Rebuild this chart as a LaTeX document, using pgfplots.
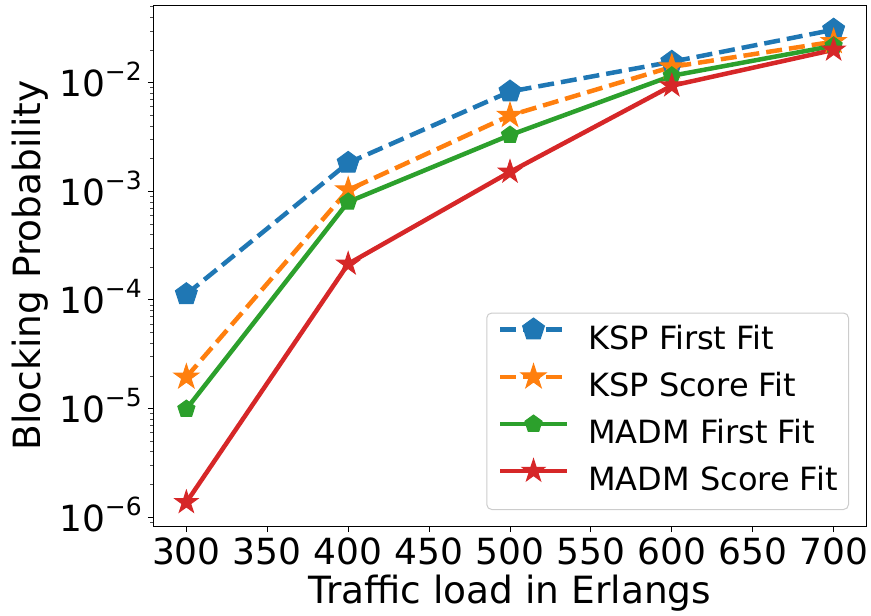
\documentclass[border=0pt]{standalone}
\usepackage{fontspec}
\setmainfont{DejaVu Sans}
\usepackage{pgfplots}
\pgfplotsset{compat=1.18}
\definecolor{cA}{HTML}{1F77B4}
\definecolor{cB}{HTML}{FF7F0E}
\definecolor{cC}{HTML}{2CA02C}
\definecolor{cD}{HTML}{D62728}
\pgfdeclareplotmark{fstar}{%
  \pgfpathmoveto{\pgfpointpolar{90}{\pgfplotmarksize}}%
  \pgfpathlineto{\pgfpointpolar{126}{0.382\pgfplotmarksize}}%
  \pgfpathlineto{\pgfpointpolar{162}{\pgfplotmarksize}}%
  \pgfpathlineto{\pgfpointpolar{198}{0.382\pgfplotmarksize}}%
  \pgfpathlineto{\pgfpointpolar{234}{\pgfplotmarksize}}%
  \pgfpathlineto{\pgfpointpolar{270}{0.382\pgfplotmarksize}}%
  \pgfpathlineto{\pgfpointpolar{306}{\pgfplotmarksize}}%
  \pgfpathlineto{\pgfpointpolar{342}{0.382\pgfplotmarksize}}%
  \pgfpathlineto{\pgfpointpolar{18}{\pgfplotmarksize}}%
  \pgfpathlineto{\pgfpointpolar{54}{0.382\pgfplotmarksize}}%
  \pgfpathclose
  \pgfusepathqfillstroke
}
\newcommand{\tp}[1]{10\raisebox{0.45em}{\fontsize{25bp}{25bp}\selectfont −#1}}
\begin{document}
\begin{tikzpicture}
\begin{axis}[
  name=ax,
  scale only axis, width=712bp, height=521bp,
  ymode=log, xmin=280, xmax=720, ymin=8.3e-7, ymax=5.2e-2,
  xtick={300,350,...,700},
  ytick={1e-6,1e-5,1e-4,1e-3,1e-2},
  yticklabels={\tp{6},\tp{5},\tp{4},\tp{3},\tp{2}},
  minor ytick={9e-7,2e-6,3e-6,4e-6,5e-6,6e-6,7e-6,8e-6,9e-6,2e-5,3e-5,4e-5,5e-5,6e-5,7e-5,8e-5,9e-5,2e-4,3e-4,4e-4,5e-4,6e-4,7e-4,8e-4,9e-4,2e-3,3e-3,4e-3,5e-3,6e-3,7e-3,8e-3,9e-3,2e-2,3e-2,4e-2,5e-2},
  /pgf/number format/assume math mode=true,
  tick align=outside, tick pos=left,
  major tick length=6bp, minor tick length=3.5bp,
  every tick/.style={black, line width=1bp},
  minor tick style={black!70, line width=0.8bp},
  axis line style={line width=1bp},
  tick label style={font=\fontsize{36bp}{43bp}\selectfont, inner sep=0pt},
  xticklabel style={anchor=north, yshift=-6bp},
  yticklabel style={anchor=base east, xshift=-6bp, yshift=-14bp},
  label style={font=\fontsize{37.5bp}{45bp}\selectfont},
  xlabel={Traffic load in Erlangs},
  ylabel={Blocking Probability},
  xlabel style={at={(axis description cs:0.5,-0.1478)}, anchor=base, inner sep=0pt},
  ylabel style={at={(axis description cs:-0.1587,0.5)}, anchor=base, inner sep=0pt, rotate=0},
  legend style={at={(axis description cs:1,0)}, anchor=south east, xshift=-17bp, yshift=16bp,
    font=\fontsize{32bp}{38bp}\selectfont, draw=black!20, line width=1bp, rounded corners=5bp,
    fill=white, inner xsep=11bp, inner ysep=4bp, row sep=0pt,
    nodes={inner sep=0pt, text height=32bp, text depth=15bp},
    /tikz/every odd column/.append style={column sep=19bp}},
  legend cell align=left,
  legend image code/.code={\draw[mark repeat=2,mark phase=2] plot coordinates {(0bp,11bp) (33.5bp,11bp) (67bp,11bp)};},
]
\addplot[color=cA, line width=4.5bp, dash pattern=on 16bp off 7bp, mark=pentagon*, mark size=11.5bp, mark options={solid, fill=cA, line width=1bp}]
  coordinates {(300,1.13e-4) (400,1.83e-3) (500,8.3e-3) (600,1.56e-2) (700,3.08e-2)};
\addlegendentry{KSP First Fit}
\addplot[color=cB, line width=4.5bp, dash pattern=on 16bp off 7bp, mark=fstar, mark size=13bp, mark options={solid, fill=cB, line width=1bp}]
  coordinates {(300,1.95e-5) (400,1.03e-3) (500,5.0e-3) (600,1.40e-2) (700,2.39e-2)};
\addlegendentry{KSP Score Fit}
\addplot[color=cC, line width=4.5bp, mark=pentagon*, mark size=9bp, mark options={solid, fill=cC, line width=1bp}]
  coordinates {(300,9.9e-6) (400,8.0e-4) (500,3.3e-3) (600,1.16e-2) (700,2.19e-2)};
\addlegendentry{MADM First Fit}
\addplot[color=cD, line width=4.5bp, mark=fstar, mark size=12bp, mark options={solid, fill=cD, line width=1bp}]
  coordinates {(300,1.37e-6) (400,2.15e-4) (500,1.51e-3) (600,9.4e-3) (700,2.01e-2)};
\addlegendentry{MADM Score Fit}
\end{axis}
\pgfresetboundingbox
\path[use as bounding box] ([xshift=-154bp,yshift=-89bp]ax.south west) rectangle ([xshift=5bp,yshift=5bp]ax.north east);
\end{tikzpicture}
\end{document}
